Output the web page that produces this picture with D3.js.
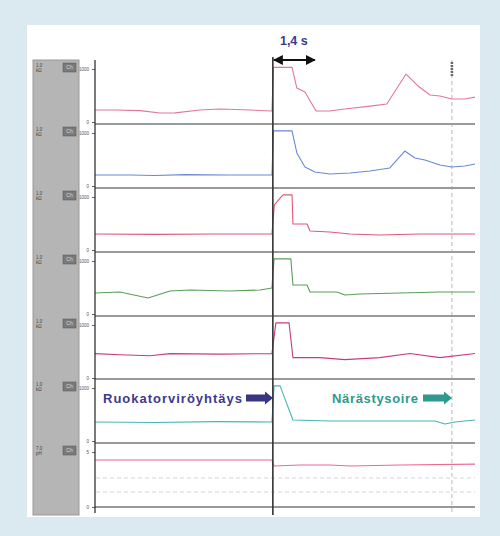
<!DOCTYPE html>
<html><head><meta charset="utf-8">
<script src="https://cdn.jsdelivr.net/npm/d3@7/dist/d3.min.js"></script>
<style>html,body{margin:0;padding:0;background:#dbeaf0;}svg{display:block;}</style>
</head><body>
<script>
// time in seconds, value in channel units (0–1000, last channel 0–5)
const ch1 = [[0,226],[0.67,226],[1.5,215],[2.17,170],[2.67,172],[3.5,226],[4.17,245],[5.17,226],[5.9,208],[5.95,1030],[6.57,1030],[6.73,640],[7.0,566],[7.37,208],[7.83,208],[8.33,245],[9.17,300],[9.73,340],[10.37,905],[10.77,680],[11.17,510],[11.5,490],[11.9,434],[12.33,434],[12.67,470]];
const ch2 = [[0,207],[1.2,207],[2.0,198],[3.0,215],[4.5,207],[5.9,207],[5.95,1040],[6.57,1040],[6.73,623],[7.0,358],[7.33,264],[7.83,226],[8.5,245],[9.17,283],[9.83,340],[10.33,660],[10.67,528],[11.0,490],[11.5,396],[11.9,358],[12.33,377],[12.67,415]];
const ch3 = [[0,302],[2,295],[4,302],[5.9,302],[5.98,850],[6.17,980],[6.27,1040],[6.57,1040],[6.6,490],[7.07,490],[7.17,358],[7.83,340],[8.5,302],[9.5,283],[10.83,302],[12.67,302]];
const ch4 = [[0,396],[0.83,415],[1.77,302],[2.5,434],[3.17,453],[4.5,434],[5.5,453],[5.9,490],[5.97,1040],[6.53,1040],[6.6,547],[7.07,547],[7.17,415],[8.07,415],[8.33,358],[8.83,377],[10.17,396],[11.5,415],[12.67,415]];
const ch5 = [[0,460],[0.83,440],[1.83,420],[2.5,460],[4.17,450],[5.9,460],[6.03,1040],[6.47,1040],[6.6,385],[7.5,385],[8.33,346],[9.5,385],[10.5,462],[11.5,385],[12.67,462]];
const ch6 = [[0,358],[2,350],[4,365],[5.9,358],[5.97,1040],[6.17,1040],[6.6,396],[7.83,377],[10.17,377],[11.33,377],[11.67,320],[12.0,358],[12.67,396]];
const ch7 = [[0,4.27],[5.9,4.27],[5.97,3.73],[6.83,3.82],[7.83,3.82],[8.5,3.73],[10.17,3.82],[12.67,3.9]];

const channels = [ch1, ch2, ch3, ch4, ch5, ch6, ch7];
const colors = ["#e07898","#6a88d6","#e0587a","#5a9e5a","#c83a86","#4ab4b4","#ec6a8e"];
const maxVals = [1000,1000,1000,1000,1000,1000,5];
const tickLabels = [["0","1000"],["0","1000"],["0","1000"],["0","1000"],["0","1000"],["0","1000"],["0","5"]];
const sideLabels = [["1.0","kΩ"],["1.0","kΩ"],["1.0","kΩ"],["1.0","kΩ"],["1.0","kΩ"],["1.0","kΩ"],["7.0","pH"]];
const eventTime = 5.93;
const markerTime = 11.9;
const spanSec = 1.4;
const labelLeft = "Ruokatorviröyhtäys";
const labelRight = "Närästysoire";

const W = 500, H = 536;
const svg = d3.select("body").append("svg").attr("width", W).attr("height", H);
const defs = svg.append("defs");
defs.append("marker").attr("id","ah").attr("viewBox","0 0 10 10").attr("refX",9).attr("refY",5)
  .attr("markerWidth",5).attr("markerHeight",5).attr("orient","auto-start-reverse")
  .append("path").attr("d","M0,0L10,5L0,10z").attr("fill","#111");

svg.append("rect").attr("width",W).attr("height",H).attr("fill","#dbeaf0");
svg.append("rect").attr("x",27).attr("y",25).attr("width",453).attr("height",492).attr("fill","#ffffff");

const x = d3.scaleLinear().domain([0, 12.67]).range([95, 475]);
const tops = [60,124,188,252,316,379,443];

// sidebar
svg.append("rect").attr("x",33).attr("y",60).attr("width",46).attr("height",455)
  .attr("fill","#b5b5b5").attr("stroke","#999").attr("stroke-width",1);

// faint dashed lines in last channel
[478,492].forEach(yy => svg.append("line").attr("x1",96).attr("x2",475).attr("y1",yy).attr("y2",yy)
  .attr("stroke","#d4d4d4").attr("stroke-width",1).attr("stroke-dasharray","4,3"));

// marker dashed vertical
svg.append("line").attr("x1",x(markerTime)).attr("x2",x(markerTime)).attr("y1",60).attr("y2",515)
  .attr("stroke","#b8b8b8").attr("stroke-width",1).attr("stroke-dasharray","4,3");
svg.append("line").attr("x1",x(markerTime)).attr("x2",x(markerTime)).attr("y1",62).attr("y2",76)
  .attr("stroke","#666").attr("stroke-width",2.5).attr("stroke-dasharray","2,1");

channels.forEach((data, i) => {
  const top = tops[i];
  const y0 = i === 6 ? 507 : top + 62;
  const y1 = i === 6 ? 452 : top + 9;
  const y = d3.scaleLinear().domain([0, maxVals[i]]).range([y0, y1]);
  // separator at bottom of channel
  const sepY = i === 6 ? 507 : tops[i+1];
  svg.append("line").attr("x1",95).attr("x2",475).attr("y1",sepY).attr("y2",sepY)
    .attr("stroke", i === 6 ? "#777" : "#9a9a9a").attr("stroke-width", i === 6 ? 1.5 : 2.2);
  // axis ticks
  const ax = d3.axisLeft(y).tickValues([0, maxVals[i]]).tickSize(3).tickFormat((d,k) => tickLabels[i][k]);
  const g = svg.append("g").attr("transform","translate(95,0)").call(ax);
  g.select(".domain").remove();
  g.selectAll("text").attr("font-size",4.5).attr("fill","#555").attr("font-family","Liberation Sans, Arial");
  g.selectAll("line").attr("stroke","#666");
  // sidebar labels
  svg.append("text").attr("x",36).attr("y",top+7).attr("font-size",4.5).attr("fill","#444")
    .attr("font-family","Liberation Sans, Arial").text(sideLabels[i][0]);
  svg.append("text").attr("x",36).attr("y",top+12).attr("font-size",4.5).attr("fill","#444")
    .attr("font-family","Liberation Sans, Arial").text(sideLabels[i][1]);
  svg.append("rect").attr("x",63).attr("y",top+3).attr("width",13).attr("height",9)
    .attr("fill","#7a7a7a").attr("stroke","#555").attr("stroke-width",0.5);
  svg.append("text").attr("x",69.5).attr("y",top+9).attr("text-anchor","middle").attr("font-size",5)
    .attr("fill","#ddd").attr("font-family","Liberation Sans, Arial").text("Ch");
  // trace
  svg.append("path").datum(data)
    .attr("d", d3.line().x(d => x(d[0])).y(d => y(d[1])))
    .attr("fill","none").attr("stroke",colors[i]).attr("stroke-width",1.1).attr("stroke-linejoin","round");
});

// left axis line
svg.append("line").attr("x1",95).attr("x2",95).attr("y1",60).attr("y2",513).attr("stroke","#222").attr("stroke-width",1.2);
// event line
svg.append("line").attr("x1",x(eventTime)).attr("x2",x(eventTime)).attr("y1",57).attr("y2",515)
  .attr("stroke","#333").attr("stroke-width",1.6);

// 1,4 s arrow
svg.append("line").attr("x1",x(eventTime)+1).attr("x2",x(eventTime+spanSec)).attr("y1",60).attr("y2",60)
  .attr("stroke","#111").attr("stroke-width",2)
  .attr("marker-start","url(#ah)").attr("marker-end","url(#ah)");
svg.append("text").attr("x",(x(eventTime)+x(eventTime+spanSec))/2).attr("y",45).attr("text-anchor","middle")
  .attr("font-size",12.5).attr("font-weight","bold").attr("fill","#3b3a86")
  .attr("font-family","Liberation Sans, Arial").text(spanSec.toString().replace(".",",") + " s");

// labels with block arrows
function blockArrow(x0, x1, yc, color) {
  const h = 3.5, hh = 6.5, hl = 8;
  svg.append("path").attr("d",
    `M${x0},${yc-h}L${x1-hl},${yc-h}L${x1-hl},${yc-hh}L${x1},${yc}L${x1-hl},${yc+hh}L${x1-hl},${yc+h}L${x0},${yc+h}Z`)
    .attr("fill",color);
}
svg.append("text").attr("x",103).attr("y",403).attr("font-size",13).attr("font-weight","bold")
  .attr("fill","#3d3a8c").attr("font-family","Liberation Sans, Arial").attr("textLength",139).text(labelLeft);
blockArrow(246, 273, 398, "#3a3582");
svg.append("text").attr("x",332).attr("y",403).attr("font-size",13).attr("font-weight","bold")
  .attr("fill","#2e9a8e").attr("font-family","Liberation Sans, Arial").attr("textLength",86).text(labelRight);
blockArrow(423, 452, 398, "#2e9a8e");
</script>
</body></html>
